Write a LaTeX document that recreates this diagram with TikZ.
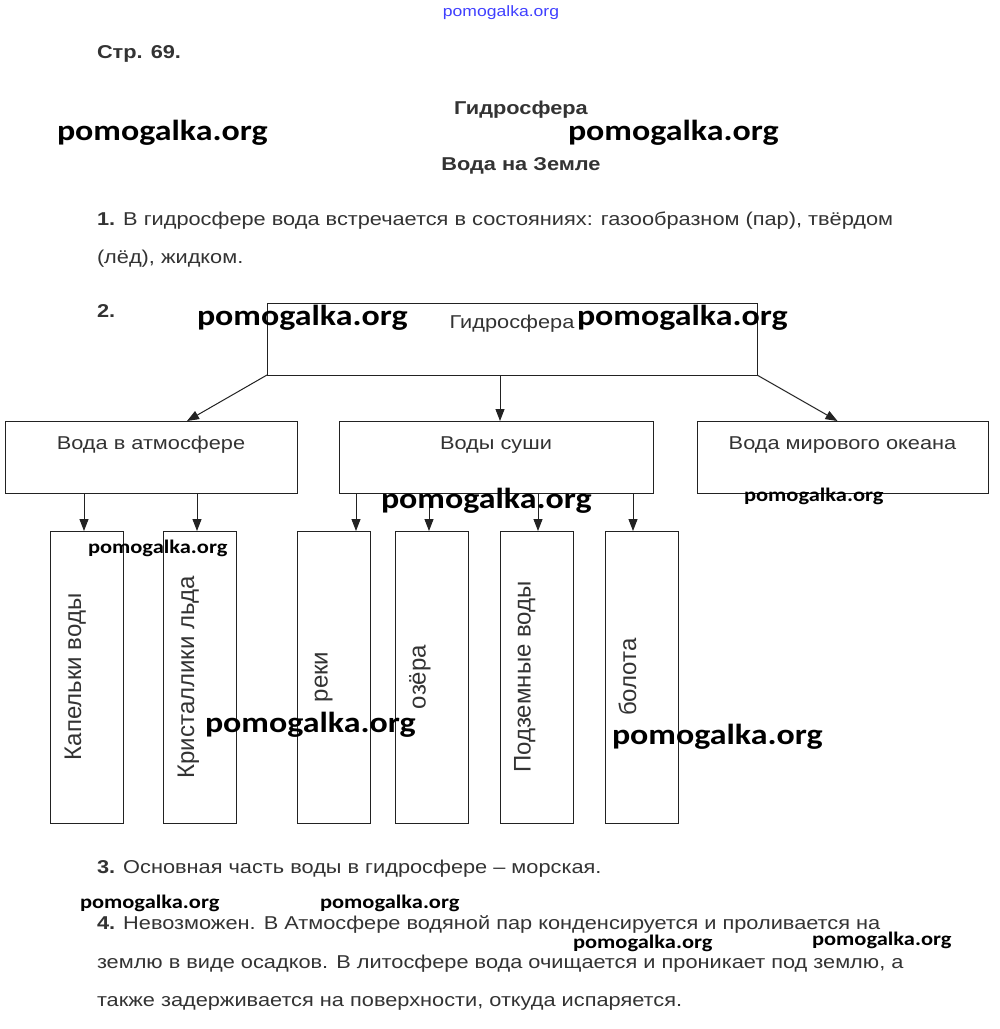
\documentclass[tikz,border=0pt]{standalone}
\usepackage{fontspec}
\setmainfont{Liberation Sans}[FakeStretch=1.17]
\newfontfamily\vfont{Liberation Sans}
\newfontfamily\wmfont{Carlito}[FakeStretch=1.17]
\usetikzlibrary{arrows.meta,calc}
\definecolor{txt}{HTML}{333333}
\definecolor{ln}{HTML}{222222}
\begin{document}
\begin{tikzpicture}[x=1pt,y=-1pt,
  every node/.style={inner sep=0pt, outer sep=0pt},
  para/.style={anchor=base west, font=\fontsize{18.6}{22}\selectfont, text=txt},
  head/.style={anchor=base, font=\fontsize{18.6}{22}\selectfont\bfseries, text=txt},
  wmbig/.style={anchor=base west, font=\wmfont\bfseries\fontsize{29}{34}\selectfont, text=black},
  wmsmall/.style={anchor=base west, font=\wmfont\bfseries\fontsize{19.2}{23}\selectfont, text=black},
  bigbox/.style={draw=ln, line width=1pt, minimum height=72pt, text height=28pt, text depth=44pt, font=\fontsize{18.6}{22}\selectfont, text=txt},
  vbox/.style={draw=ln, line width=1pt, rotate=90, minimum width=292pt, text height=30.5pt, text depth=42.5pt, font=\vfont\fontsize{24}{28}\selectfont, text=txt},
  arr/.style={draw=ln, line width=1pt, -{Triangle[length=12pt,width=9pt]}}
]
\useasboundingbox (0,0) rectangle (1000,1029);
\fill[white] (0,0) rectangle (1000,1029);

% top site mark
\node[font=\fontsize{15}{18}\selectfont, text=blue!75!white] (site) at (501,13) {pomogalka.org};

\node[para, font=\fontsize{18.6}{22}\selectfont\bfseries] (page) at (97,58) {Стр. 69.};
\node[head] (t1) at (521,114) {Гидросфера};
\node[head] (t2) at (521,170) {Вода на Земле};

\node[para] (p1a) at (97,225) {\textbf{1.} В гидросфере вода встречается в состояниях: газообразном (пар), твёрдом};
\node[para] (p1b) at (97,263) {(лёд), жидком.};
\node[para, font=\fontsize{18.6}{22}\selectfont\bfseries] (p2) at (97,317) {2.};

% diagram
\node[bigbox, minimum width=490pt, text height=25pt, text depth=47pt] (hyd) at (512,339) {Гидросфера};
\node[bigbox, minimum width=292pt] (atm) at (151,457) {Вода в атмосфере};
\node[bigbox, minimum width=314pt] (sushi) at (496,457) {Воды суши};
\node[bigbox, minimum width=291pt] (ocean) at (842.5,457) {Вода мирового океана};

\node[vbox, minimum height=73pt] (kap) at (87,677) {Капельки воды};
\node[vbox, minimum height=73pt] (kri) at (200,677) {Кристаллики льда};
\node[vbox, minimum height=73pt] (rek) at (333.5,677) {реки};
\node[vbox, minimum height=73pt] (oze) at (431.5,677) {озёра};
\node[vbox, minimum height=73pt] (pod) at (536.5,677) {Подземные воды};
\node[vbox, minimum height=72pt] (bol) at (642,677) {болота};

\draw[arr] (hyd.south west) -- ($(atm.north)+(36,0)$);
\draw[arr] ($(hyd.south)+(-12,0)$) -- ($(sushi.north)+(4,0)$);
\draw[arr] (hyd.south east) -- ($(ocean.north)+(-5,0)$);

\coordinate (c1) at ($(kap.east)+(-3,0)$);
\coordinate (c2) at ($(kri.east)+(-3,0)$);
\coordinate (c3) at ($(rek.east)+(22.5,0)$);
\coordinate (c4) at ($(oze.east)+(-2.5,0)$);
\coordinate (c5) at ($(pod.east)+(1.5,0)$);
\coordinate (c6) at ($(bol.east)+(-9,0)$);
\draw[arr] (c1 |- atm.south) -- (c1);
\draw[arr] (c2 |- atm.south) -- (c2);
\draw[arr] (c3 |- sushi.south) -- (c3);
\draw[arr] (c4 |- sushi.south) -- (c4);
\draw[arr] (c5 |- sushi.south) -- (c5);
\draw[arr] (c6 |- sushi.south) -- (c6);

\node[para] (p3) at (97,873) {\textbf{3.} Основная часть воды в гидросфере – морская.};
\node[para] (p4a) at (97,929) {\textbf{4.} Невозможен. В Атмосфере водяной пар конденсируется и проливается на};
\node[para] (p4b) at (97,968) {землю в виде осадков. В литосфере вода очищается и проникает под землю, а};
\node[para] (p4c) at (97,1006) {также задерживается на поверхности, откуда испаряется.};

% watermarks
\node[wmbig] (w1) at (57,140) {pomogalka.org};
\node[wmbig] (w2) at (568,140) {pomogalka.org};
\node[wmbig] (w3) at (197,325) {pomogalka.org};
\node[wmbig] (w4) at (577,325) {pomogalka.org};
\node[wmbig] (w5) at (381,508) {pomogalka.org};
\node[wmsmall] (w6) at (744,501) {pomogalka.org};
\node[wmsmall] (w7) at (88,553) {pomogalka.org};
\node[wmbig] (w8) at (205,732) {pomogalka.org};
\node[wmbig] (w9) at (612,744) {pomogalka.org};
\node[wmsmall] (w10) at (80,908) {pomogalka.org};
\node[wmsmall] (w11) at (320,908) {pomogalka.org};
\node[wmsmall] (w12) at (573,948) {pomogalka.org};
\node[wmsmall] (w13) at (812,945) {pomogalka.org};
\end{tikzpicture}
\end{document}
